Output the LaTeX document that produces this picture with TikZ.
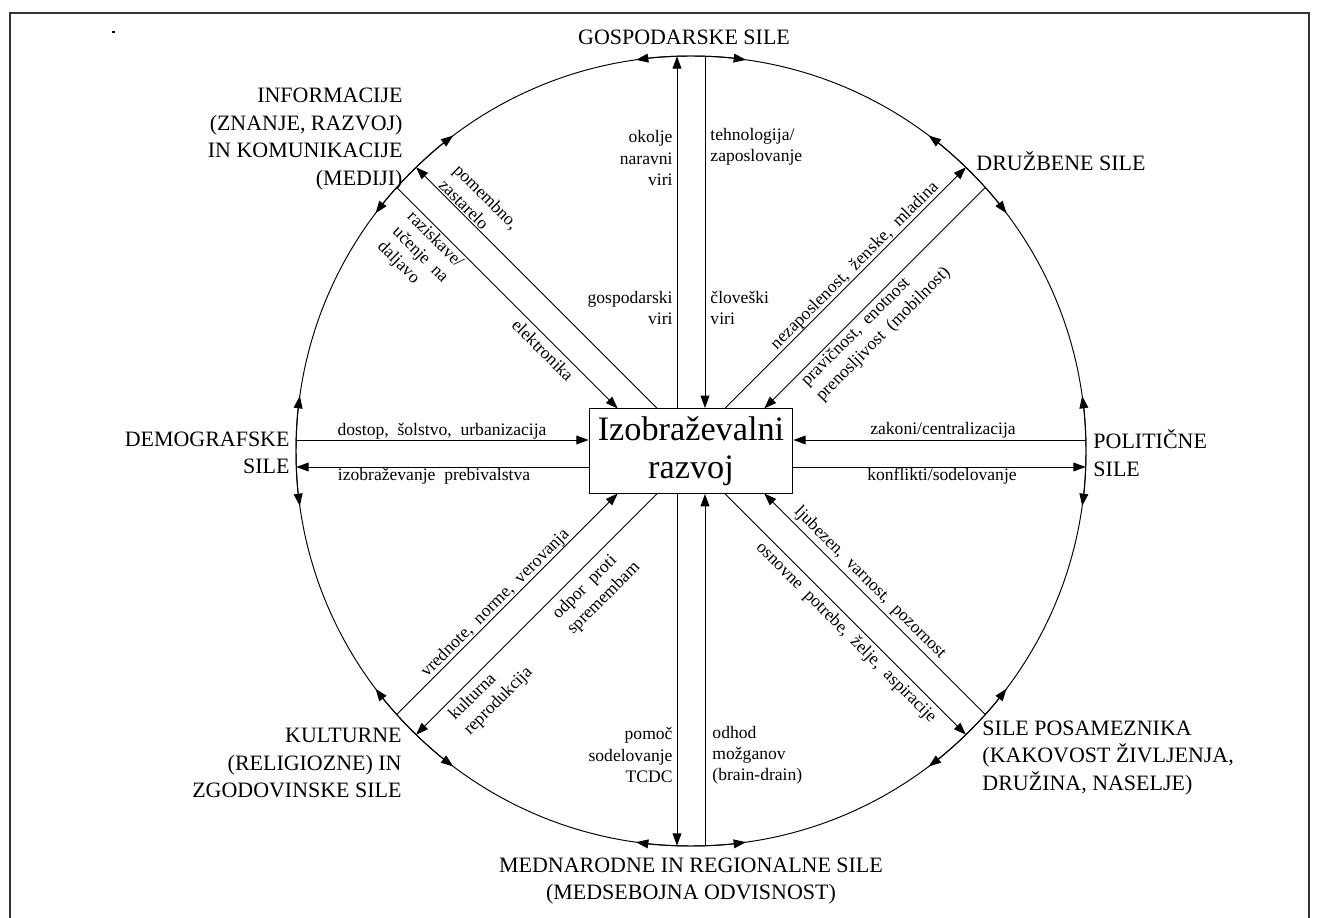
\documentclass[tikz,border=0pt]{standalone}
\usepackage{fontspec}
\setmainfont{Liberation Serif}
\usetikzlibrary{arrows.meta}

\tikzset{
  arr/.style={-{Triangle[length=7pt,width=5pt]}},
  force/.style={font=\fontsize{12.5}{15.6}\selectfont, inner sep=0pt},
  flow/.style={font=\fontsize{10}{12}\selectfont, inner sep=0pt},
  hub/.style={draw, minimum width=116pt, minimum height=48.4pt, inner sep=0pt,
    align=center, font=\fontsize{19.5}{21.5}\selectfont}
}

\begin{document}
\begin{tikzpicture}[x=0.02cm, y=-0.02cm, line width=0.55pt]
  \useasboundingbox (0,0) rectangle (1319,918);

  % Draw the frame
  \draw[line width=1.1pt, black!80] (10,918) -- (10,13) -- (1309,13) -- (1309,918);
  \fill (112,31) rectangle (115,33);

  % Draw the circle and the arrows on it
  \coordinate (O) at (691,451);
  \draw (O) circle[radius=395];
  \begin{scope}[shift={(O)}]
    \foreach \a in {0,45,...,315} {
      \draw[arr] (\a:395) arc[start angle=\a, end angle=\a+8, radius=395];
      \draw[arr] (\a:395) arc[start angle=\a, end angle=\a-8, radius=395];
    }
  \end{scope}

  % The centre box
  \node[hub] (edu) at (691,451) {Izobraževalni\\razvoj};

  % Define the points on the circle
  \coordinate (n1) at (677,56.3);
  \coordinate (n2) at (705,56.3);
  \coordinate (s1) at (677,845.7);
  \coordinate (s2) at (705,845.7);
  \coordinate (w1) at (296.2,440);
  \coordinate (w2) at (296.3,467);
  \coordinate (e1) at (1085.8,440);
  \coordinate (e2) at (1085.7,467);
  \coordinate (ne1) at (965.9,167.3);
  \coordinate (ne2) at (985.3,187.5);
  \coordinate (nw1) at (416.1,167.3);
  \coordinate (nw2) at (396.7,187.5);
  \coordinate (sw1) at (396.7,714.5);
  \coordinate (sw2) at (416.1,734.7);
  \coordinate (se1) at (985.3,714.5);
  \coordinate (se2) at (965.9,734.7);

  % Define the points on the box
  \coordinate (ne1b) at (724.7,408.5);
  \coordinate (ne2b) at (764.3,408.5);
  \coordinate (nw1b) at (657.3,408.5);
  \coordinate (nw2b) at (617.7,408.5);
  \coordinate (sw1b) at (617.7,493.5);
  \coordinate (sw2b) at (657.3,493.5);
  \coordinate (se1b) at (764.3,493.5);
  \coordinate (se2b) at (724.7,493.5);

  % Draw the connectors
  \draw[arr] (n1 |- edu.north) -- (n1);
  \draw[arr] (n2) -- (n2 |- edu.north);
  \draw[arr] (s1 |- edu.south) -- (s1);
  \draw[arr] (s2) -- (s2 |- edu.south);
  \draw[arr] (w1) -- (w1 -| edu.west);
  \draw[arr] (w2 -| edu.west) -- (w2);
  \draw[arr] (e1) -- (e1 -| edu.east);
  \draw[arr] (e2 -| edu.east) -- (e2);
  \draw[arr] (ne1b) -- (ne1);
  \draw[arr] (ne2) -- (ne2b);
  \draw[arr] (nw1b) -- (nw1);
  \draw[arr] (nw2) -- (nw2b);
  \draw[arr] (sw1) -- (sw1b);
  \draw[arr] (sw2b) -- (sw2);
  \draw[arr] (se1) -- (se1b);
  \draw[arr] (se2b) -- (se2);

  % Label the forces
  \node[force, anchor=base] (eco) at (684,45) {GOSPODARSKE SILE};
  \node[force, align=right, anchor=east] (info) at (403,139) {INFORMACIJE\\(ZNANJE, RAZVOJ)\\IN KOMUNIKACIJE\\(MEDIJI)};
  \node[force, anchor=west] (soc) at (976,161) {DRUŽBENE SILE};
  \node[force, align=left, anchor=west] (pol) at (1093,453) {POLITIČNE\\SILE};
  \node[force, align=right, anchor=east] (dem) at (290,453) {DEMOGRAFSKE\\SILE};
  \node[force, align=left, anchor=west] (ind) at (982,758) {SILE POSAMEZNIKA\\(KAKOVOST ŽIVLJENJA,\\DRUŽINA, NASELJE)};
  \node[force, align=right, anchor=east] (cul) at (402,763) {KULTURNE\\(RELIGIOZNE) IN\\ZGODOVINSKE SILE};
  \node[force, align=center] (int) at (691,881) {MEDNARODNE IN REGIONALNE SILE\\(MEDSEBOJNA ODVISNOST)};

  % Label the flows
  \node[flow, align=right, anchor=east] (env) at (673,158) {okolje\\naravni\\viri};
  \node[flow, align=left, anchor=west] (tech) at (710,147) {tehnologija/\\zaposlovanje};
  \node[flow, align=right, anchor=east] (ecores) at (673,308) {gospodarski\\viri};
  \node[flow, align=left, anchor=west] (human) at (710,308) {človeški\\viri};
  \node[flow, align=right, anchor=east] (aid) at (673,755) {pomoč\\sodelovanje\\TCDC};
  \node[flow, align=left, anchor=west] (brain) at (712,755) {odhod\\možganov\\(brain-drain)};
  \node[flow, anchor=base] (access) at (442,436) {dostop,~~šolstvo,~~urbanizacija};
  \node[flow, anchor=base] (popedu) at (434,481) {izobraževanje~~prebivalstva};
  \node[flow, anchor=base] (law) at (943,435) {zakoni/centralizacija};
  \node[flow, anchor=base] (conf) at (942,481) {konflikti/sodelovanje};
  \node[flow, rotate=45] (unemp) at (855,266) {nezaposlenost,~~ženske,~~mladina};
  \node[flow, rotate=45, align=left] (equity) at (876,327) {pravičnost,~~enotnost\\prenosljivost~~(mobilnost)};
  \node[flow, rotate=-45, align=left] (obsol) at (479,204) {pomembno,\\zastarelo};
  \node[flow, rotate=-45, align=left] (resea) at (420,255) {raziskave/\\učenje~~na\\daljavo};
  \node[flow, rotate=-45] (elec) at (543,350) {elektronika};
  \node[flow, rotate=45] (values) at (495.5,603.5) {vrednote,~~norme,~~verovanja};
  \node[flow, rotate=45, align=left] (resist) at (596.5,591) {odpor~~proti\\spremembam};
  \node[flow, rotate=45, align=left] (repro) at (491,694) {kulturna\\reprodukcija};
  \node[flow, rotate=-45] (love) at (870,583) {ljubezen,~~varnost,~~pozornost};
  \node[flow, rotate=-45] (needs) at (846,633) {osnovne~~potrebe,~~želje,~~aspiracije};
\end{tikzpicture}
\end{document}
